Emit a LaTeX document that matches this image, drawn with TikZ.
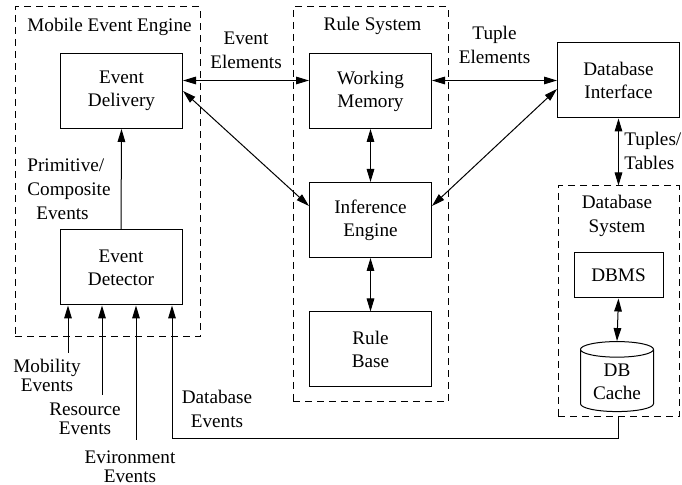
\documentclass[tikz,border=0pt]{standalone}
\usepackage{fontspec}
\setmainfont{Liberation Serif}
\usetikzlibrary{shapes.geometric, arrows.meta, calc}

\begin{document}
\begin{tikzpicture}[x=0.5pt, y=-0.5pt,
        font=\fontsize{9.6}{11.5}\selectfont,
        block/.style={draw, line width=0.5pt, minimum width=61pt, minimum height=37.5pt,
                      inner sep=0pt, align=center},
        group/.style={draw, dash pattern=on 3.5pt off 2.5pt, line width=0.5pt, inner sep=0pt},
        cyl/.style={cylinder, shape border rotate=90, draw, line width=0.5pt, aspect=0.3,
                    minimum width=36.5pt, minimum height=35pt, inner sep=1pt, align=center},
        lbl/.style={align=center, font=\fontsize{9.6}{12}\selectfont},
        src/.style={align=center, font=\fontsize{9.6}{9.6}\selectfont},
        arr/.style={-{Triangle[length=6.5pt, width=3.8pt]}, line width=0.5pt},
        both/.style={{Triangle[length=6.5pt, width=3.8pt]}-{Triangle[length=6.5pt, width=3.8pt]}, line width=0.5pt}
    ]
        \useasboundingbox (0,0) rectangle (682,485);

        % dashed groups
        \node[group, minimum width=92.5pt, minimum height=165pt] (mee) at (107.5,172) {};
        \node[group, minimum width=77.5pt, minimum height=197.5pt] (rules) at (370.5,204.5) {};
        \node[group, minimum width=60.5pt, minimum height=115.5pt] (dbsys) at (618.5,301.5) {};
        \node (meetitle) at (109.5,27) {Mobile Event Engine};
        \node (rulestitle) at (372.5,26) {Rule System};
        \node[lbl] (dbsystitle) at (617,216) {Database\\System};

        % boxes
        \node[block] (evdel) at (121.5,91) {Event\\Delivery};
        \node[block] (evdet) at (121,267.5) {Event\\Detector};
        \node[block] (wm) at (370.5,91) {Working\\Memory};
        \node[block] (ie) at (370.5,220) {Inference\\Engine};
        \node[block] (rb) at (370.5,349.5) {Rule\\Base};
        \node[block] (dbi) at (618.5,80.5) {Database\\Interface};
        \node[block, minimum width=44.5pt, minimum height=22.5pt] (dbms) at (618.5,275.5) {DBMS};
        \node[cyl] (cache) at (617,382) {DB\\Cache};

        % connectors
        \draw[both] (evdel.east |- dbi) -- node[lbl, above=2.5pt] {Event\\Elements} (wm.west |- dbi);
        \draw[both] (wm.east |- dbi) -- node[lbl, above=5pt] {Tuple\\Elements} (dbi.west);
        \draw[both] (evdel.east) -- ($(ie.west)+(0,-14)$);
        \draw[both] ($(dbi.west)+(0,8.5)$) -- ($(ie.east)+(0,-14)$);
        \draw[both] (wm.south) -- (ie.north);
        \draw[both] (ie.south) -- (rb.north);
        \draw[both] (dbi.south) -- (dbsys.north);
        \draw[both] (dbms.south) -- (cache.north);
        \draw[arr] (evdet.north) -- (evdel.south);
        \node[lbl, align=left, anchor=west, inner sep=0pt] (tuplbl) at (624,151) {Tuples/\\Tables};
        \node[lbl, align=left, anchor=west, inner sep=0pt] (primlbl) at (27,189) {Primitive/\\Composite\\\hspace{4.5pt}Events};

        % incoming events
        \coordinate (mob) at (68,353);
        \coordinate (res) at (102,395);
        \coordinate (env) at (136,440);
        \coordinate (dbturn) at (172,439);
        \node[src] (moblbl) at (47,375.5) {Mobility\\Events};
        \node[src] (reslbl) at (85,419) {Resource\\Events};
        \node[src] (envlbl) at (130,467) {Evironment\\Events};
        \node[lbl] (dblbl) at (217,409) {Database\\Events};
        \draw[arr] (mob) -- (mob |- evdet.south);
        \draw[arr] (res) -- (res |- evdet.south);
        \draw[arr] (env) -- (env |- evdet.south);
        \draw[arr] (dbsys.south) |- (dbturn) -- (dbturn |- evdet.south);
    \end{tikzpicture}
\end{document}
